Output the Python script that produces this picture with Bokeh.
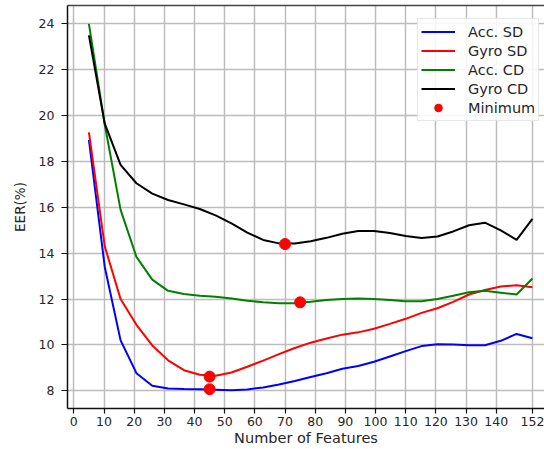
from bokeh.plotting import figure
from bokeh.models import LinearAxis, FixedTicker, Legend, LegendItem, Range1d
from bokeh.embed import file_html
from bokeh.resources import INLINE

# ---- data ----
n_features = [5, 10.25, 15.5, 20.75, 26, 31.25, 36.5, 41.75, 47, 52.25, 57.5, 62.75,
              68, 73.25, 78.5, 83.75, 89, 94.25, 99.5, 104.75, 110, 115.25, 120.5,
              125.75, 131, 136.25, 141.5, 146.75, 152]

acc_sd = [18.94, 13.4, 10.2, 8.77, 8.22, 8.10, 8.08, 8.07, 8.05, 8.03, 8.06, 8.15,
          8.28, 8.43, 8.6, 8.77, 8.96, 9.08, 9.27, 9.5, 9.73, 9.95, 10.03,
          10.02, 9.99, 9.99, 10.18, 10.48, 10.29]

gyro_sd = [19.27, 14.3, 12.0, 10.88, 9.98, 9.33, 8.9, 8.7, 8.66, 8.8, 9.05, 9.32,
           9.6, 9.87, 10.1, 10.28, 10.45, 10.55, 10.71, 10.92, 11.14, 11.4, 11.6,
           11.88, 12.2, 12.4, 12.55, 12.6, 12.52]

acc_cd = [24.0, 19.6, 15.89, 13.84, 12.85, 12.36, 12.22, 12.15, 12.1, 12.03, 11.93, 11.86,
          11.82, 11.82, 11.88, 11.96, 12.0, 12.03, 12.0, 11.96, 11.91, 11.91, 12.0,
          12.15, 12.3, 12.36, 12.28, 12.2, 12.9]

gyro_cd = [23.5, 19.65, 17.85, 17.05, 16.6, 16.32, 16.13, 15.93, 15.65, 15.3, 14.9, 14.58,
           14.43, 14.42, 14.52, 14.67, 14.85, 14.97, 14.97, 14.88, 14.75, 14.66, 14.73,
           14.95, 15.22, 15.33, 15.0, 14.58, 15.5]

min_x = [45, 45, 70, 75]
min_y = [8.07, 8.62, 14.40, 11.86]

x_ticks = [0, 10, 20, 30, 40, 50, 60, 70, 80, 90, 100, 110, 120, 130, 140, 152]
y_ticks = [8, 10, 12, 14, 16, 18, 20, 22, 24]

series = [
    ("Acc. SD", acc_sd, "#0000ff"),
    ("Gyro SD", gyro_sd, "#ff0000"),
    ("Acc. CD", acc_cd, "#008000"),
    ("Gyro CD", gyro_cd, "#000000"),
]

FONT = "DejaVu Sans"
TXT = "#262626"

p = figure(width=544, height=449, output_backend="svg", toolbar_location=None,
           x_range=Range1d(-2.1, 156.0), y_range=Range1d(7.23, 24.8),
           min_border_left=67, min_border_right=0, min_border_top=5, min_border_bottom=41)
p.outline_line_color = None
p.background_fill_color = "white"
p.border_fill_color = "white"

# grid
for g in (p.xgrid, p.ygrid):
    g.grid_line_color = "#bdbdbd"
    g.grid_line_width = 1.5

# axes
p.xaxis.ticker = FixedTicker(ticks=x_ticks)
p.yaxis.ticker = FixedTicker(ticks=y_ticks)
p.xaxis.axis_label = "Number of Features"
p.yaxis.axis_label = "EER(%)"
for ax in (p.xaxis[0], p.yaxis[0]):
    ax.axis_line_color = "#111111"
    ax.axis_line_width = 1.5
    ax.major_tick_line_color = "#111111"
    ax.major_tick_line_width = 1.2
    ax.major_tick_in = 0
    ax.minor_tick_out = 0
    ax.minor_tick_in = 0
    ax.major_label_text_font = FONT
    ax.major_label_text_font_size = "12.5px"
    ax.major_label_text_color = TXT
    ax.axis_label_text_font = FONT
    ax.axis_label_text_font_style = "normal"
    ax.axis_label_text_color = TXT
p.xaxis.major_tick_out = 5
p.xaxis.major_label_standoff = 3
p.xaxis.axis_label_standoff = 1
p.xaxis.axis_label_text_font_size = "14.5px"
p.yaxis.major_tick_out = 6
p.yaxis.major_label_standoff = 7
p.yaxis.axis_label_standoff = 8
p.yaxis.axis_label_text_font_size = "13.5px"

top_axis = LinearAxis(ticker=FixedTicker(ticks=[]), major_label_text_font_size="0px",
                      major_tick_out=0, major_tick_in=0, minor_tick_out=0, minor_tick_in=0,
                      axis_line_color="#444444", axis_line_width=1.5)
p.add_layout(top_axis, "above")

items = []
for name, vals, col in series:
    r = p.line(n_features, vals, line_color=col, line_width=2)
    items.append(LegendItem(label=name, renderers=[r]))

m = p.scatter(min_x, min_y, marker="circle", size=11, fill_color="#ff0000",
              line_color="#ff0000")
items.append(LegendItem(label="Minimum", renderers=[m]))

legend = Legend(items=items, location=(350, 287))
legend.label_text_font = FONT
legend.label_text_font_size = "14.5px"
legend.label_text_color = TXT
legend.glyph_width = 34
legend.glyph_height = 19
legend.label_height = 19
legend.spacing = 0
legend.padding = 3
legend.margin = 0
legend.label_standoff = 13
legend.border_line_color = "#d0d0d0"
legend.border_line_width = 1
legend.background_fill_color = "white"
legend.background_fill_alpha = 0.85
p.add_layout(legend, "center")

open("out.html", "w").write(file_html(p, INLINE))
